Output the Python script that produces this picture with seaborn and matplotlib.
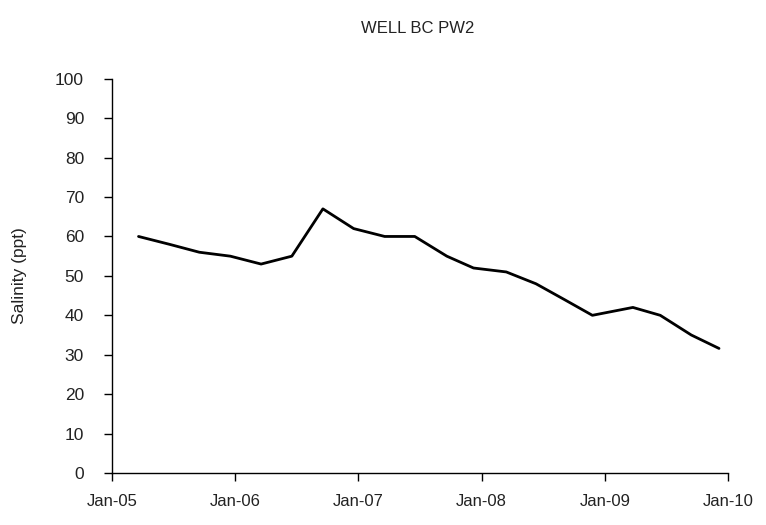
import matplotlib
matplotlib.use("Agg")
import matplotlib.pyplot as plt
import seaborn as sns
import pandas as pd

dates = ["2005-03-21", "2005-06-21", "2005-09-17", "2005-12-18", "2006-03-19",
         "2006-06-18", "2006-09-18", "2006-12-18", "2007-03-20", "2007-06-17",
         "2007-09-20", "2007-12-08", "2008-03-14", "2008-06-10", "2008-09-02",
         "2008-11-24", "2009-03-24", "2009-06-13", "2009-09-13", "2009-12-04"]
salinity = [60, 58, 56, 55, 53, 55, 67, 62, 60, 60,
            55, 52, 51, 48, 44, 40, 42, 40, 35, 31.6]
tick_dates = ["2005-01-01", "2006-01-01", "2007-01-01", "2008-01-01", "2009-01-01", "2010-01-01"]
tick_labels = ["Jan-05", "Jan-06", "Jan-07", "Jan-08", "Jan-09", "Jan-10"]

df = pd.DataFrame({"date": pd.to_datetime(dates), "salinity": salinity})

sns.set_style("white")
plt.rcParams["font.family"] = ["Liberation Sans", "DejaVu Sans"]

fig = plt.figure(figsize=(7.66, 5.25), dpi=100)
ax = fig.add_axes([0.146, 0.099, 0.805, 0.751])
sns.lineplot(data=df, x="date", y="salinity", color="black", linewidth=2.0, ax=ax)

ax.set_ylim(0, 100)
ax.set_yticks(range(0, 101, 10))
ticks = pd.to_datetime(tick_dates)
ax.set_xlim(ticks[0], ticks[-1])
ax.set_xticks(ticks)
ax.set_xticklabels(tick_labels)

for s in ["top", "right"]:
    ax.spines[s].set_visible(False)
for s in ["left", "bottom"]:
    ax.spines[s].set_color("black")
    ax.spines[s].set_linewidth(1.0)

ax.tick_params(axis="y", direction="out", length=6, width=1, color="black",
               labelsize=12.5, pad=14, left=True, labelcolor="#222222")
ax.tick_params(axis="x", direction="out", length=6, width=1, color="black",
               labelsize=12, pad=9, bottom=True, labelcolor="#222222")

ax.set_xlabel("")
ax.set_ylabel("Salinity (ppt)", fontsize=12.5, labelpad=20, color="#222222")
fig.suptitle("WELL BC PW2", x=0.545, y=0.96, fontsize=12, color="#222222")

fig.savefig("out.png", dpi=100)
